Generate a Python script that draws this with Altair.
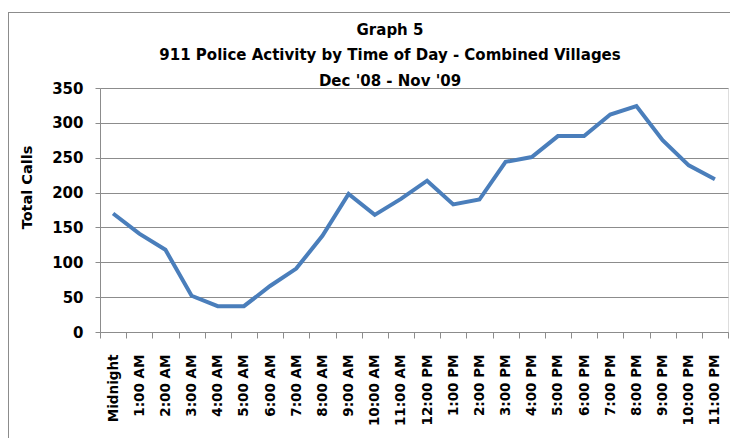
import altair as alt
import pandas as pd

times = ["Midnight", "1:00 AM", "2:00 AM", "3:00 AM", "4:00 AM", "5:00 AM",
         "6:00 AM", "7:00 AM", "8:00 AM", "9:00 AM", "10:00 AM", "11:00 AM",
         "12:00 PM", "1:00 PM", "2:00 PM", "3:00 PM", "4:00 PM", "5:00 PM",
         "6:00 PM", "7:00 PM", "8:00 PM", "9:00 PM", "10:00 PM", "11:00 PM"]
calls = [170, 141, 118, 52, 37, 37, 66, 91, 138, 198, 168, 191,
         217, 183, 190, 244, 251, 281, 281, 312, 324, 275, 239, 219]
y_ticks = [0, 50, 100, 150, 200, 250, 300, 350]
title_lines = ["Graph 5", "911 Police Activity by Time of Day - Combined Villages", "Dec '08 - Nov '09"]

df = pd.DataFrame({"time": times, "calls": calls})

line = alt.Chart(df).mark_line(color="#4a7ebb", strokeWidth=4).encode(
    x=alt.X("time:N", sort=times,
            scale=alt.Scale(type="band", paddingInner=0, paddingOuter=0),
            axis=alt.Axis(title=None, labelAngle=-90, labelFont="DejaVu Sans",
                          labelFontWeight="bold", labelFontSize=13.5, labelColor="black",
                          tickBand="extent", tickSize=6, tickColor="#8c8c8c",
                          domainColor="#8c8c8c", labelPadding=16, grid=False)),
    y=alt.Y("calls:Q", scale=alt.Scale(domain=[0, 350], nice=False),
            axis=alt.Axis(title="Total Calls", values=y_ticks, labelFont="DejaVu Sans",
                          labelFontWeight="bold", labelFontSize=15, labelColor="black",
                          labelPadding=12, tickSize=5, tickColor="#8c8c8c",
                          domainColor="#8c8c8c", gridColor="#8c8c8c",
                          titleFont="DejaVu Sans", titleFontWeight="bold",
                          titleFontSize=14.5, titleColor="black",
                          titleAngle=-90, titleX=-73, titleY=99,
                          titleAlign="center", titleBaseline="middle")),
)

one = pd.DataFrame({"a": [0]})
frame_left = alt.Chart(one).mark_rule(color="#8c8c8c", strokeWidth=1).encode(
    x=alt.value(-91.5), y=alt.value(-76), y2=alt.value(360))
frame_top = alt.Chart(one).mark_rule(color="#8c8c8c", strokeWidth=1).encode(
    x=alt.value(-91.5), x2=alt.value(640), y=alt.value(-75.5))

chart = alt.layer(frame_left, frame_top, line).properties(
    width=628, height=244,
    autosize=alt.AutoSizeParams(type="none"),
    padding={"left": 92, "top": 80, "right": 2, "bottom": 106},
    title=alt.TitleParams(text=title_lines, font="DejaVu Sans",
                          fontSize=15, fontWeight="bold", color="black",
                          anchor="middle", frame="group", dx=-24,
                          lineHeight=25.5, offset=-77),
).configure_view(stroke=None).configure(background="white")

chart.save("out.html", embed_options={"renderer": "svg", "actions": False})
